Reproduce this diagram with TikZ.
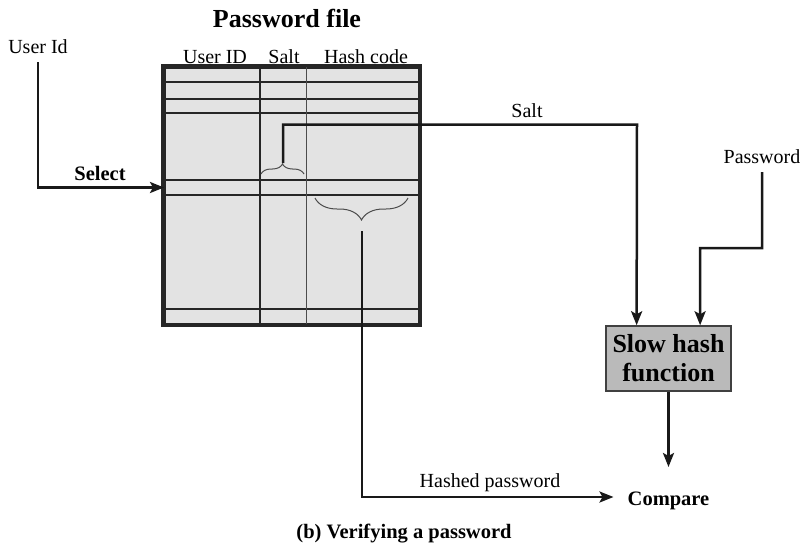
\documentclass[tikz,border=0pt]{standalone}
\usepackage{fontspec}
\setmainfont{Liberation Serif}
\usetikzlibrary{arrows.meta,decorations.pathreplacing,calc}
\begin{document}
\begin{tikzpicture}[x=1pt,y=-1pt,
  lbl/.style={font=\fontsize{20}{24}\selectfont, inner sep=0pt, anchor=base},
  blbl/.style={font=\fontsize{20.5}{24}\selectfont\bfseries, inner sep=0pt, anchor=base},
  conn/.style={line width=2.5pt, black!90},
  arr/.style={conn, -{Stealth[length=14pt,width=11pt,inset=3pt]}},
  tbl/.style={draw=black!85, line width=3pt, fill=black!11, minimum width=255pt, minimum height=257pt, inner sep=0pt},
  rowline/.style={line width=1.5pt, black!85},
  hashbox/.style={draw=black!75, line width=1.5pt, fill=black!27, minimum width=125pt, minimum height=65pt, inner sep=0pt, align=center, font=\fontsize{26}{29}\selectfont\bfseries},
  brc/.style={line width=1pt, black!70, decorate}
]
\useasboundingbox (0,0) rectangle (807,549);

% title and headers
\node[blbl, font=\fontsize{26}{30}\selectfont\bfseries] (title) at (287,27) {Password file};
\node[lbl] (huid) at (215,63) {User ID};
\node[lbl] (hsalt) at (284,63) {Salt};
\node[lbl] (hhash) at (366,63) {Hash code};

% table
\node[tbl] (pf) at (291.5,195.5) {};
\foreach \yy in {82,99,113,180,195,309}
  \draw[rowline] (164,\yy) -- (419,\yy);
\draw[rowline] (260,67) -- (260,324);
\draw[line width=0.8pt, black!70] (306,67) -- (306,324);
\draw[line width=3pt, black!85] (pf.north west) rectangle (pf.south east);

% braces
\draw[brc, decoration={brace, amplitude=10pt}] (261,174) -- (304,174);
\draw[brc, decoration={brace, amplitude=22pt}] (408,198) -- (315,198);
\coordinate (st) at (283,163);
\coordinate (ht) at (362,231);

% user id / select
\node[lbl] (uid) at (38,53) {User Id};
\node[blbl] (sel) at (100,180) {Select};
\coordinate (selin) at (164,187.5);
\draw[arr] ($(uid.base)+(0,9)$) |- (selin);

% slow hash function
\node[hashbox] (shf) at (668.5,358.5) {Slow hash\\function};
\node[lbl] (saltl) at (527,117) {Salt};
\draw[arr] (st) |- (637,124.5) -- ($(shf.north west)!0.248!(shf.north east)$);

\node[lbl] (pw) at (762,163) {Password};
\draw[arr] ($(pw.base)+(0,9)$) |- (700,248) -- ($(shf.north west)!0.75!(shf.north east)$);

% compare
\node[blbl] (cmp) at (668.5,505) {Compare};
\draw[arr] (shf.south) -- ($(cmp.base)+(0,-38)$);

\node[lbl] (hp) at (490,487) {Hashed password};
\draw[arr] (ht) |- ($(cmp.base west)+(-14,-8)$);

% caption
\node[blbl] (cap) at (404,538) {(b) Verifying a password};
\end{tikzpicture}
\end{document}
